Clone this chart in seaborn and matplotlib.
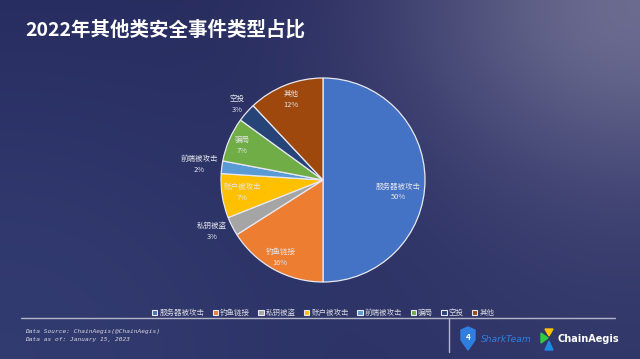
"""
2022年其他类安全事件类型占比 - pie chart on a dark gradient slide.
"""

import numpy as np
import matplotlib
matplotlib.use("Agg")
import matplotlib.pyplot as plt
from matplotlib.patches import Patch, Polygon
import seaborn as sns

# -- Data ---------------------------------------------------------------
categories = ["服务器被攻击", "钓鱼链接", "私钥被盗", "账户被攻击",
              "前端被攻击", "骗局", "空投", "其他"]
shares = [50, 16, 3, 7, 2, 7, 3, 12]
colors = ["#4472C4", "#ED7D31", "#A5A5A5", "#FFC000",
          "#5B9BD5", "#70AD47", "#264478", "#9E480E"]
# data label placement: distance from centre (radii) and angle nudge (deg)
label_radius = [0.75, 0.87, 1.20, 0.80, 1.22, 0.86, 1.12, 0.85]
label_shift = [-9, 0, -2, 0, 0, 0, 0, 0]

title = "2022年其他类安全事件类型占比"
source_lines = ["Data Source: ChainAegis(@ChainAegis)",
                "Data as of: January 15, 2023"]

sns.set_style("dark")
plt.rcParams["font.family"] = ["Noto Sans CJK SC", "DejaVu Sans"]

W, H = 640, 359
fig = plt.figure(figsize=(W / 100, H / 100), dpi=100)

# -- Background gradient ------------------------------------------------
bg = fig.add_axes([0, 0, 1, 1])
xx, yy = np.meshgrid(np.arange(W), np.arange(H))
base = np.array([34, 37, 88], dtype=float)
glow_tr = np.exp(-(((xx - W) ** 2 + (yy * 1.3) ** 2) / (2 * 170.0 ** 2)))
glow_bl = np.exp(-((xx ** 2 + (yy - H) ** 2) / (2 * 260.0 ** 2)))
glow_br = np.exp(-(((xx - W) ** 2 + (yy - H) ** 2) / (2 * 200.0 ** 2)))
img = (base[None, None, :]
       + glow_tr[..., None] * np.array([70, 66, 52])
       + glow_bl[..., None] * np.array([16, 22, 24])
       + glow_br[..., None] * np.array([14, 16, 16]))
bg.imshow(np.clip(img, 0, 255).astype(np.uint8), extent=(0, W, H, 0), aspect="auto")
bg.set_xlim(0, W)
bg.set_ylim(H, 0)
bg.axis("off")

bg.text(25, 30, title, color="white", fontsize=14, fontweight="bold", va="center")

# footer rules
bg.plot([21, 615], [317.5, 317.5], color="#b4b6c8", lw=1.0)
bg.plot([449, 449], [317.5, 352], color="#b4b6c8", lw=1.0)

for i, line in enumerate(source_lines):
    bg.text(25, 331 + i * 9, line, color="#d8d8e0", fontsize=4.4,
            family="DejaVu Sans Mono", style="italic", va="center")

# logos
shield = Polygon([(461, 330), (468, 327), (475, 330), (475, 340),
                  (468, 350), (461, 340)], closed=True, color="#2f7fe0")
bg.add_patch(shield)
bg.text(468, 338, "4", color="white", fontsize=6, ha="center", va="center",
        fontweight="bold")
bg.text(481, 339, "SharkTeam", color="#2f7fe0", fontsize=6.6, va="center",
        family="DejaVu Sans", style="italic")
bg.add_patch(Polygon([(545, 329), (553, 329), (549, 336)], color="#FFC000"))
bg.add_patch(Polygon([(541, 333), (541, 343), (548, 338)], color="#2ECC40"))
bg.add_patch(Polygon([(545, 350), (553, 350), (549, 341)], color="#1E88E5"))
bg.text(557, 339, "ChainAegis", color="white", fontsize=7, va="center",
        fontweight="bold", family="DejaVu Sans")

# -- Pie ----------------------------------------------------------------
cx, cy, r = 323, 180, 102
ax = fig.add_axes([(cx - r) / W, 1 - (cy + r) / H, 2 * r / W, 2 * r / H])
wedges, _ = ax.pie(shares, colors=colors, startangle=90, counterclock=False,
                   radius=1, wedgeprops=dict(edgecolor="#e8e8f0", linewidth=0.9))
ax.set_xlim(-1, 1)
ax.set_ylim(-1, 1)
ax.axis("off")

for w, name, val, rad, shift in zip(wedges, categories, shares,
                                    label_radius, label_shift):
    ang = np.deg2rad((w.theta1 + w.theta2) / 2 + shift)
    ax.text(rad * np.cos(ang), rad * np.sin(ang), f"{name}\n{val}%",
            ha="center", va="center", color="#e4e4ea", fontsize=5.4,
            linespacing=1.5)

# -- Legend -------------------------------------------------------------
handles = [Patch(facecolor=c, edgecolor="#e8e8f0", linewidth=0.8) for c in colors]
fig.legend(handles, categories, ncol=len(categories), loc="center",
           bbox_to_anchor=(0.505, 1 - 313 / H), frameon=False, fontsize=5.4,
           handlelength=0.7, handleheight=0.7, handletextpad=0.3,
           columnspacing=1.1, labelcolor="#d9d9e0")

fig.savefig("out.png", dpi=100)
